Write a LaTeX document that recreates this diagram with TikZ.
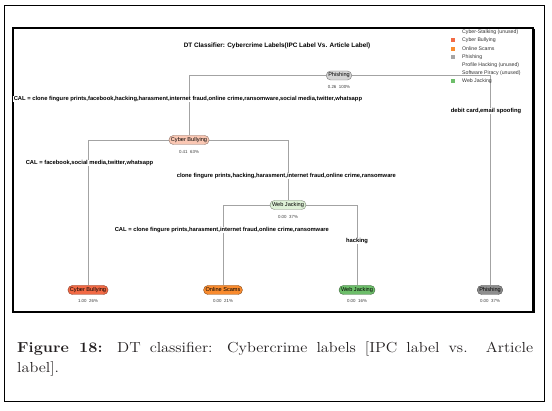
\documentclass[tikz,border=0pt]{standalone}
\usepackage{fontspec}
\newfontfamily\dtf{Liberation Sans}
\usetikzlibrary{backgrounds}
\definecolor{linegray}{HTML}{A3A3A3}
\definecolor{rootfill}{HTML}{D4D4D4}
\definecolor{cbfill}{HTML}{FAC7B3}
\definecolor{wjfill}{HTML}{DDF0D6}
\definecolor{cbleaf}{HTML}{F26A45}
\definecolor{osleaf}{HTML}{F98B2E}
\definecolor{wjleaf}{HTML}{6DBE6A}
\definecolor{phleaf}{HTML}{8E8E8E}
\definecolor{legtext}{HTML}{333333}
\definecolor{captext}{HTML}{231F20}
\begin{document}
\begin{tikzpicture}[x=1pt,y=-1pt,
  splitlab/.style={font=\dtf\bfseries\fontsize{5.8}{6}\selectfont, fill=white, inner sep=0.6pt, text=black},
  statlab/.style={font=\dtf\fontsize{4.4}{5}\selectfont, text=black!75, inner sep=0.5pt},
  treenode/.style={draw=#1!55!black, fill=#1, rectangle, rounded corners=4.4pt, inner xsep=2pt, inner ysep=0.8pt, minimum height=9pt, font=\dtf\fontsize{5.6}{6}\selectfont, text=black},
  legsq/.style={fill=#1, minimum size=4pt, inner sep=0pt},
  legtxt/.style={font=\dtf\fontsize{5.2}{6}\selectfont, text=legtext, anchor=west, inner sep=0pt},
  edge/.style={draw=linegray, line width=0.9pt},
  captxt/.style={anchor=base west, inner sep=0, text=captext, font=\fontsize{14.5}{18}\selectfont}
]
\begin{scope}[on background layer]
\fill[white] (0,0) rectangle (552,411);
\end{scope}
\useasboundingbox (0,0) rectangle (552,411);
% frames
\draw[black, line width=0.8pt] (4,5) rectangle (544,401);
\draw[black, line width=1.2pt] (13,28) rectangle (533,312);
\draw[black, line width=2.2pt] (534,28.6) -- (534,312.6);
% title
\node[font=\dtf\bfseries\fontsize{6.4}{7}\selectfont] (title) at (277,45.5) {DT Classifier: Cybercrime Labels(IPC Label Vs. Article Label)};
% legend
\node[legtxt] (lg1) at (462,32.3) {Cyber-Stalking (unused)};
\node[legsq=cbleaf] (sq2) at (453,40.5) {};
\node[legtxt] (lg2) at (462,40.5) {Cyber Bullying};
\node[legsq=osleaf] (sq3) at (453,48.7) {};
\node[legtxt] (lg3) at (462,48.7) {Online Scams};
\node[legsq=phleaf!80] (sq4) at (453,56.9) {};
\node[legtxt] (lg4) at (462,56.9) {Phishing};
\node[legtxt] (lg5) at (462,65.1) {Profile Hacking (unused)};
\node[legtxt] (lg6) at (462,73.3) {Software Piracy (unused)};
\node[legsq=wjleaf] (sq7) at (453,81.5) {};
\node[legtxt] (lg7) at (462,81.5) {Web Jacking};
% tree nodes
\node[treenode=rootfill] (root) at (339,75.5) {Phishing};
\node[statlab] (rootS) at (339,87) {0.26\hspace{2.5pt}100\%};
\node[treenode=cbfill] (cb) at (189,140) {Cyber Bullying};
\node[statlab] (cbS) at (189,152) {0.41\hspace{2.5pt}63\%};
\node[treenode=wjfill] (wj) at (288,205) {Web Jacking};
\node[statlab] (wjS) at (288,216.5) {0.00\hspace{2.5pt}37\%};
\node[treenode=cbleaf] (l1) at (88,290) {Cyber Bullying};
\node[statlab] (l1S) at (88,301) {1.00\hspace{2.5pt}26\%};
\node[treenode=osleaf] (l2) at (223,290) {Online Scams};
\node[statlab] (l2S) at (223,301) {0.00\hspace{2.5pt}21\%};
\node[treenode=wjleaf] (l3) at (357,290) {Web Jacking};
\node[statlab] (l3S) at (357,301) {0.00\hspace{2.5pt}16\%};
\node[treenode=phleaf] (l4) at (490,290) {Phishing};
\node[statlab] (l4S) at (490,301) {0.00\hspace{2.5pt}37\%};
% split labels
\node[splitlab, anchor=west] (s1) at (13,99) {CAL = clone fingure prints,facebook,hacking,harasment,internet fraud,online crime,ransomware,social media,twitter,whatsapp};
\node[splitlab] (s2) at (486,111) {debit card,email spoofing};
\node[splitlab, anchor=west] (s3) at (25,163) {CAL = facebook,social media,twitter,whatsapp};
\node[splitlab, anchor=west] (s4) at (176,176) {clone fingure prints,hacking,harasment,internet fraud,online crime,ransomware};
\node[splitlab, anchor=west] (s5) at (114,230) {CAL = clone fingure prints,harasment,internet fraud,online crime,ransomware};
\node[splitlab] (s6) at (357,241) {hacking};
% connectors
\begin{scope}[on background layer]
\draw[edge] (root) -| (cb);
\draw[edge] (root) -| (l4);
\draw[edge] (cb) -| (l1);
\draw[edge] (cb) -| (wj);
\draw[edge] (wj) -| (l2);
\draw[edge] (wj) -| (l3);
\end{scope}
% caption
\node[captxt] (cap1) at (17,353) {\scalebox{1.12}[1]{\makebox[460.7pt][s]{\textbf{Figure 18:} DT classifier: Cybercrime labels [IPC label vs. Article}}};
\node[captxt] (cap2) at (17,373) {\scalebox{1.12}[1]{label].}};
\end{tikzpicture}
\end{document}
